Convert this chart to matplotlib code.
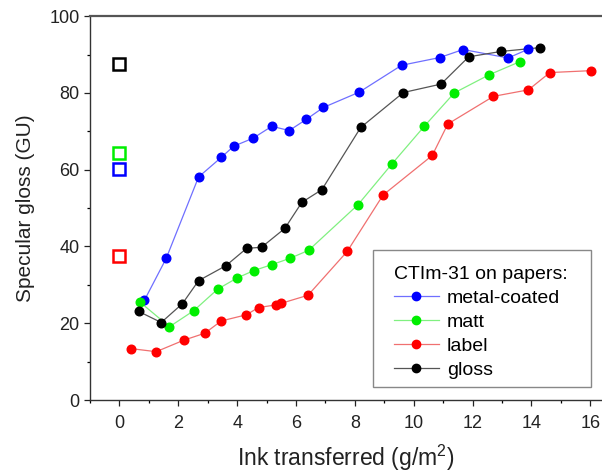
import matplotlib
matplotlib.use("Agg")
import matplotlib.pyplot as plt
from matplotlib.ticker import MultipleLocator
from matplotlib.patches import Rectangle

plt.rcParams['font.family'] = ['Liberation Sans', 'DejaVu Sans']
plt.rcParams['mathtext.fontset'] = 'custom'
plt.rcParams['mathtext.rm'] = 'Liberation Sans'

# Data
mc_x = [0.85, 1.59, 2.69, 3.46, 3.88, 4.54, 5.18, 5.77, 6.35, 6.93, 8.15, 9.59, 10.88, 11.68, 13.21, 13.9]
mc_y = [26.0, 36.9, 58.1, 63.2, 66.1, 68.2, 71.3, 70.2, 73.1, 76.2, 80.2, 87.2, 89.2, 91.3, 89.1, 91.4]

matt_x = [0.7, 1.7, 2.53, 3.34, 4.0, 4.56, 5.19, 5.79, 6.43, 8.11, 9.25, 10.36, 11.38, 12.56, 13.6]
matt_y = [25.5, 19.1, 23.3, 28.9, 31.8, 33.7, 35.3, 36.9, 39.0, 50.9, 61.4, 71.3, 80.0, 84.7, 88.1]

label_x = [0.39, 1.25, 2.19, 2.9, 3.46, 4.31, 4.73, 5.33, 5.5, 6.41, 7.74, 8.96, 10.63, 11.16, 12.71, 13.9, 14.63, 16.04]
label_y = [13.4, 12.6, 15.6, 17.4, 20.6, 22.2, 24.1, 24.8, 25.2, 27.3, 38.7, 53.4, 63.7, 71.9, 79.1, 80.8, 85.3, 85.8]

gloss_x = [0.65, 1.42, 2.14, 2.69, 3.62, 4.32, 4.83, 5.62, 6.2, 6.88, 8.2, 9.65, 10.93, 11.87, 12.97, 14.3]
gloss_y = [23.1, 20.2, 25.1, 31.1, 35.0, 39.5, 39.8, 44.7, 51.5, 54.8, 71.0, 80.1, 82.3, 89.4, 90.8, 91.8]

# unprinted paper gloss (x = 0)
paper_gloss = [60.2, 64.3, 37.6, 87.5]

series_names = ['metal-coated', 'matt', 'label', 'gloss']
colors = ['#0000ff', '#00ee00', '#ff0000', '#000000']
line_colors = ['#6f6fff', '#80f080', '#f07070', '#555555']

fig = plt.figure(figsize=(6.02, 4.74), dpi=100)
ax = fig.add_axes([0.1495, 0.156, 0.8505, 0.810])

data = [(mc_x, mc_y), (matt_x, matt_y), (label_x, label_y), (gloss_x, gloss_y)]
for (xs, ys), name, c, lc in zip(data, series_names, colors, line_colors):
    ax.plot(xs, ys, '-', color=lc, lw=0.9, zorder=2)
    ax.plot(xs, ys, 'o', color=c, ms=6.2, mec=c, zorder=3)
    # legend proxy
    ax.plot([], [], '-o', color=lc, mfc=c, mec=c, ms=6, lw=0.9, label=name)

for g, c in zip(paper_gloss, colors):
    ax.plot([0], [g], 's', mfc='white', mec=c, mew=1.8, ms=8, zorder=4)

ax.set_xlim(-1, 16.4)
ax.set_ylim(0, 100)
ax.xaxis.set_major_locator(MultipleLocator(2))
ax.xaxis.set_minor_locator(MultipleLocator(1))
ax.yaxis.set_major_locator(MultipleLocator(20))
ax.yaxis.set_minor_locator(MultipleLocator(10))
ax.tick_params(which='major', direction='out', length=4.5, width=0.9, labelsize=13, colors='#222222')
ax.tick_params(which='minor', direction='out', length=2.5, width=0.9)
ax.tick_params(axis='x', pad=6)
ax.tick_params(axis='y', pad=3)

for s in ['left', 'bottom']:
    ax.spines[s].set_color('#333333')
    ax.spines[s].set_linewidth(1.0)
ax.spines['top'].set_color('#555555')
ax.spines['top'].set_linewidth(1.6)
ax.spines['right'].set_visible(False)

ax.set_xlabel('Ink transferred (g/m$^{2}$)', fontsize=16.5, labelpad=8, color='#222222')
ax.set_ylabel('Specular gloss (GU)', fontsize=15, labelpad=10, color='#222222')

# legend frame drawn separately (wider horizontal padding than vertical)
frame = Rectangle((0.5527, 0.0339), 0.4258, 0.3567, transform=ax.transAxes,
                  facecolor='white', edgecolor='#888888', lw=1.0, zorder=5)
ax.add_patch(frame)

leg = ax.legend(title='CTIm-31 on papers:', loc='upper left', bbox_to_anchor=(0.594, 0.349),
                fontsize=14, title_fontsize=14, frameon=False,
                handlelength=2.3, handletextpad=0.4,
                borderpad=0, labelspacing=0.33, borderaxespad=0)
leg.set_zorder(6)
leg._legend_box.align = 'left'

fig.savefig('out.png', dpi=100)
